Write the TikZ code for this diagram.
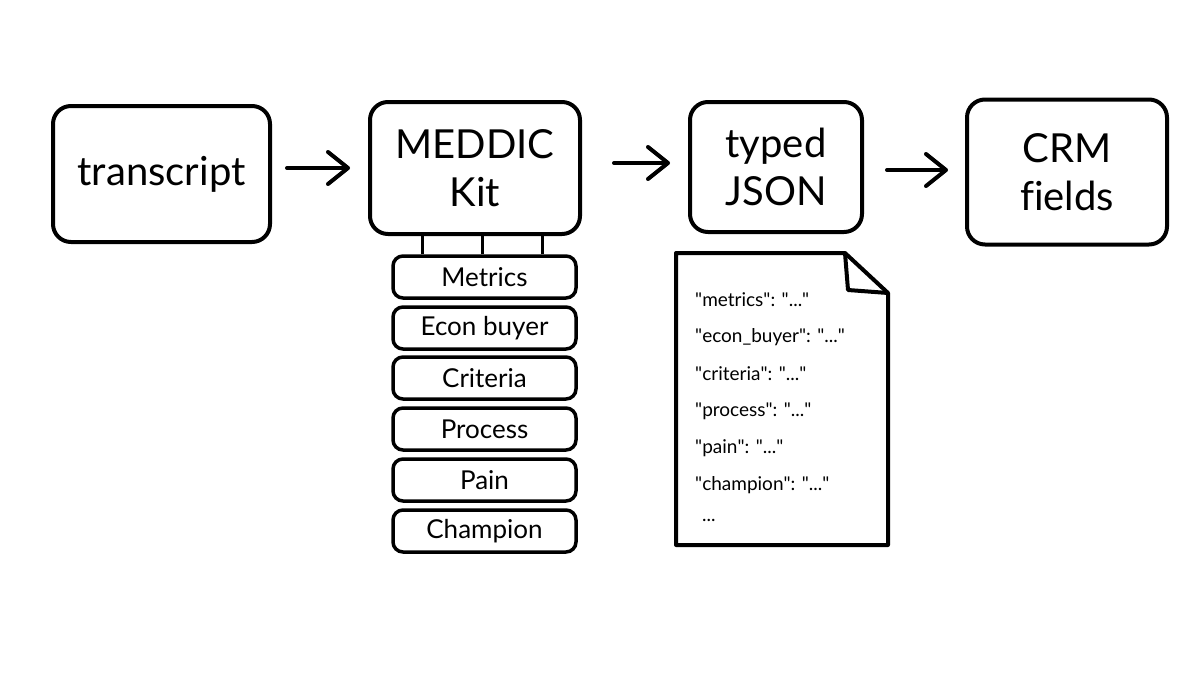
\documentclass[tikz,border=0pt]{standalone}
\usepackage{fontspec}
\setmainfont[Ligatures=NoCommon]{Lato}
\usetikzlibrary{arrows.meta}
\newcommand{\jq}{\textquotedbl}
\begin{document}
\begin{tikzpicture}[x=1pt,y=-1pt,
  bigbox/.style={draw, line width=4pt, rounded corners=18pt, align=center, inner sep=0pt,
    font=\fontsize{40}{48}\selectfont},
  kitbox/.style={draw, line width=3.5pt, rounded corners=10pt, inner sep=0pt,
    minimum width=183pt, minimum height=42pt, font=\fontsize{26}{30}\selectfont},
  arr/.style={line width=4pt, line cap=round, line join=round,
    -{Straight Barb[length=20pt,width=32pt,round]}},
  link/.style={line width=3pt},
  doc/.style={line width=4pt, line join=round},
  jsontext/.style={anchor=west, inner sep=0pt, font=\fontsize{19}{22}\selectfont}
]
\useasboundingbox (0,0) rectangle (1200,675);
\fill[white] (0,0) rectangle (1200,675);

% main boxes
\node[bigbox, minimum width=217pt, minimum height=136pt] (trans) at (161.5,174) {transcript};
\node[bigbox, minimum width=210pt, minimum height=132pt] (meddic) at (475,168) {MEDDIC\\Kit};
\node[bigbox, minimum width=172pt, minimum height=130pt] (json) at (776,167) {typed\\JSON};
\node[bigbox, minimum width=200pt, minimum height=145pt] (crm) at (1067,172) {CRM\\fields};

% arrows
\coordinate (a1s) at ([xshift=15pt,yshift=6pt]trans.east);
\draw[arr, shorten >=18pt] (a1s) -- (a1s -| meddic.west);
\coordinate (a2s) at ([xshift=32pt,yshift=5pt]meddic.east);
\draw[arr, shorten >=18pt] (a2s) -- (a2s -| json.west);
\coordinate (a3s) at ([xshift=23pt,yshift=-3pt]json.east);
\draw[arr, shorten >=17pt] (a3s) -- (a3s -| crm.west);

% MEDDIC kit stack
\node[kitbox] (metrics) at (484.5,277) {Metrics};
\node[kitbox] (econ) at (484.5,328) {Econ buyer};
\node[kitbox] (criteria) at (484.5,378) {Criteria};
\node[kitbox] (process) at (484.5,429) {Process};
\node[kitbox] (pain) at (484.5,480) {Pain};
\node[kitbox] (champion) at (484.5,531) {Champion};

\foreach \dx in {-62,-2,58} {
  \draw[link] ([xshift=\dx pt]metrics.north) -- ([xshift=\dx pt]metrics.north |- meddic.south);
}

% JSON document
\draw[doc] (676,253) -- (845,253) -- (888,293) -- (888,545) -- (676,545) -- cycle;
\draw[doc] (845,253) -- (848,290) -- (888,293);

\node[jsontext] (j1) at (695,300) {\jq metrics\jq: \jq...\jq};
\node[jsontext] (j2) at (695,337) {\jq econ\_buyer\jq: \jq...\jq};
\node[jsontext] (j3) at (695,374) {\jq criteria\jq: \jq...\jq};
\node[jsontext] (j4) at (695,411) {\jq process\jq: \jq...\jq};
\node[jsontext] (j5) at (695,448) {\jq pain\jq: \jq...\jq};
\node[jsontext] (j6) at (695,485) {\jq champion\jq: \jq...\jq};
\node[jsontext] (j7) at (702,520) {...};
\end{tikzpicture}
\end{document}
